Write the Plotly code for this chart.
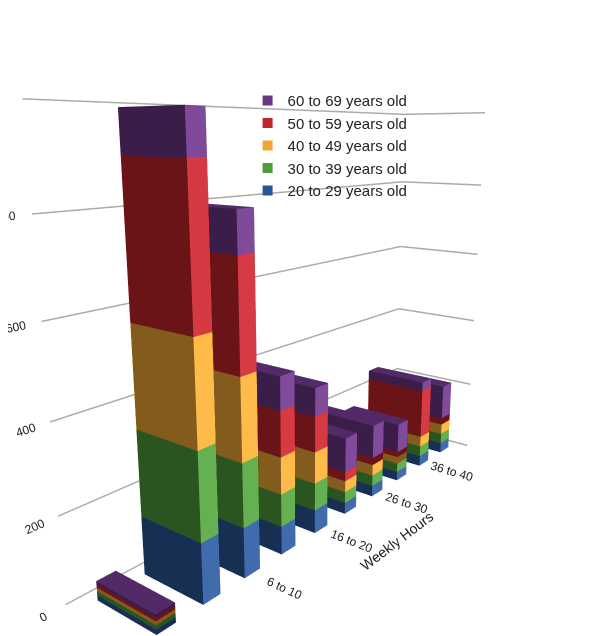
import plotly.graph_objects as go

categories = ["0", "1 to 5", "6 to 10", "11 to 15", "16 to 20", "21 to 25",
              "26 to 30", "31 to 35", "36 to 40", "41 to 45"]
tick_labels = ["0", "", "6 to 10", "", "16 to 20", "", "26 to 30", "", "36 to 40", ""]

groups = ["20 to 29 years old", "30 to 39 years old", "40 to 49 years old",
          "50 to 59 years old", "60 to 69 years old"]
colors = ["#2a5597", "#4f9a3a", "#eea533", "#c0242c", "#6a3585"]

age_20 = [12, 140, 120, 70, 60, 30, 30, 25, 30, 30]
age_30 = [10, 200, 150, 80, 70, 30, 30, 25, 30, 30]
age_40 = [8, 230, 190, 90, 80, 30, 30, 20, 30, 30]
age_50 = [8, 330, 250, 110, 90, 25, 20, 15, 140, 20]
age_60 = [7, 90, 90, 80, 70, 90, 90, 80, 25, 100]
series = [age_20, age_30, age_40, age_50, age_60]


def box(x0, x1, y0, y1, z0, z1):
    xs = [x0, x1, x1, x0, x0, x1, x1, x0]
    ys = [y0, y0, y1, y1, y0, y0, y1, y1]
    zs = [z0, z0, z0, z0, z1, z1, z1, z1]
    i = [0, 0, 4, 4, 0, 0, 1, 1, 2, 2, 3, 3]
    j = [1, 2, 5, 6, 1, 5, 2, 6, 3, 7, 0, 4]
    k = [2, 3, 6, 7, 5, 4, 6, 5, 7, 6, 4, 7]
    return xs, ys, zs, i, j, k


fig = go.Figure()
base = [0] * len(categories)
for g, vals in enumerate(series):
    X, Y, Z, I, J, K = [], [], [], [], [], []
    for c, v in enumerate(vals):
        xs, ys, zs, i, j, k = box(c - 0.2, c + 0.2, -0.35, 0.35, base[c], base[c] + v)
        off = len(X)
        X += xs; Y += ys; Z += zs
        I += [a + off for a in i]; J += [a + off for a in j]; K += [a + off for a in k]
        base[c] += v
    fig.add_trace(go.Mesh3d(x=X, y=Y, z=Z, i=I, j=J, k=K, color=colors[g], flatshading=True,
                            name=groups[g], showlegend=False,
                            lighting=dict(ambient=0.55, diffuse=0.8, specular=0.4, roughness=0.5)))

for g in reversed(range(len(groups))):
    fig.add_trace(go.Scatter3d(x=[None], y=[None], z=[None], mode="markers",
                               marker=dict(color=colors[g], size=10, symbol="square"),
                               name=groups[g]))

fig.update_layout(
    width=599, height=636, paper_bgcolor="white",
    margin=dict(l=0, r=0, t=0, b=0),
    font=dict(family="Liberation Sans", size=12, color="#222"),
    legend=dict(x=0.40, y=0.88, font=dict(size=15), bgcolor="rgba(0,0,0,0)"),
    scene=dict(
        xaxis=dict(title=dict(text="Weekly Hours"), tickvals=list(range(10)), ticktext=tick_labels,
                   showgrid=False, showbackground=False, zeroline=False, range=[-0.6, 9.6]),
        yaxis=dict(visible=False, range=[-0.5, 0.5]),
        zaxis=dict(title=dict(text="Number of People"), range=[0, 1050],
                   tickvals=[0, 200, 400, 600, 800, 1000], gridcolor="#aaa", gridwidth=3,
                   showbackground=False, zeroline=False),
        aspectmode="manual", aspectratio=dict(x=1.7, y=0.35, z=1.4),
        camera=dict(eye=dict(x=-1.9, y=-1.5, z=0.55), center=dict(x=0, y=0, z=-0.05),
                    projection=dict(type="perspective")),
    ),
)

fig.write_html("out.html")
